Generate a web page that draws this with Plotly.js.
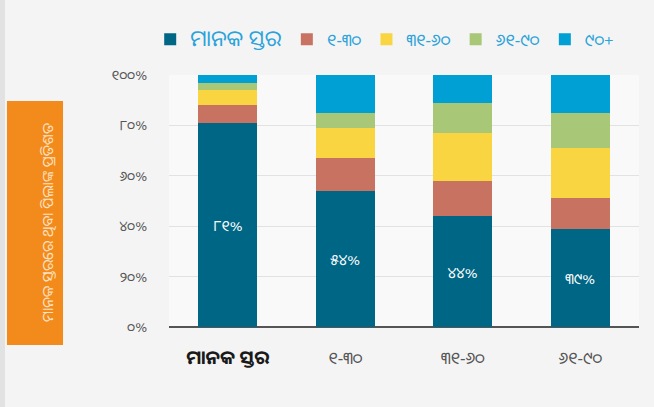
<!DOCTYPE html>
<html>
<head>
<meta charset="utf-8">
<script src="https://cdn.plot.ly/plotly-3.0.1.min.js"></script>
<style>
html,body{margin:0;padding:0;background:#f4f4f4;}
#chart{width:654px;height:407px;}
</style>
</head>
<body>
<div id="chart"></div>
<script>
// ---- data ----
var categories = ['ମାନକ ସ୍ତର', '୧-୩୦', '୩୧-୬୦', '୬୧-୯୦'];
var seriesNames = ['ମାନକ ସ୍ତର', '୧-୩୦', '୩୧-୬୦', '୬୧-୯୦', '୯୦+'];
var standardLevel = [81, 54, 44, 39];
var range1to30 = [7, 13, 14, 12];
var range31to60 = [6, 12, 19, 20];
var range61to90 = [3, 6, 12, 14];
var range90plus = [3, 15, 11, 15];
var yTickVals = [0, 20, 40, 60, 80, 100];
var yTickText = ['୦%', '୨୦%', '୪୦%', '୬୦%', '୮୦%', '୧୦୦%'];
var yTitle = 'ମାନକ ସ୍ତରରେ ଥିବା ପିଲାଙ୍କ ପ୍ରତିଶତ';

var odiaDigits = ['୦','୧','୨','୩','୪','୫','୬','୭','୮','୯'];
function toOdia(n){ return String(n).split('').map(function(c){ return odiaDigits[+c]; }).join(''); }

var colors = ['#006685', '#c87362', '#f9d641', '#a9c877', '#009fd4'];
var seriesValues = [standardLevel, range1to30, range31to60, range61to90, range90plus];

var font = "'Noto Sans Oriya','Noto Sans', 'DejaVu Sans', sans-serif";

var traces = seriesValues.map(function(vals, i){
  var t = {
    type: 'bar',
    x: categories,
    y: vals,
    name: i === 0 ? '<span style="font-size:22px">' + seriesNames[i] + '</span>' : seriesNames[i],
    marker: {color: colors[i], line: {width: 0}},
    hoverinfo: 'none'
  };
  if (i === 0) {
    t.text = vals.map(function(v){ return toOdia(v) + '%'; });
    t.textposition = 'inside';
    t.insidetextanchor = 'middle';
    t.textfont = {color: '#ffffff', size: 15, family: font};
  } else {
    t.textposition = 'none';
  }
  return t;
});

var xTickText = categories.map(function(c, i){
  return i === 0 ? '<b><span style="font-size:19px;color:#1a1a1a">' + c + '</span></b>' : c;
});

var layout = {
  width: 654, height: 407,
  margin: {l: 169, r: 15, t: 75, b: 80},
  paper_bgcolor: '#f4f4f4',
  plot_bgcolor: '#f9f9f9',
  barmode: 'stack',
  bargap: 0.5,
  font: {family: font, color: '#444'},
  showlegend: true,
  legend: {
    orientation: 'h',
    x: -0.04, xanchor: 'left',
    y: 1.14, yanchor: 'middle',
    font: {size: 17, color: '#2aa2da', family: font},
    traceorder: 'normal',
    bgcolor: 'rgba(0,0,0,0)'
  },
  xaxis: {
    type: 'category',
    tickvals: categories,
    ticktext: xTickText,
    tickfont: {size: 17, color: '#555', family: font},
    ticks: 'outside', ticklen: 16, tickcolor: 'rgba(0,0,0,0)',
    showgrid: false,
    showline: false,
    zeroline: false
  },
  yaxis: {
    range: [0, 100],
    tickvals: yTickVals,
    ticktext: yTickText,
    tickfont: {size: 14, color: '#555', family: font},
    showgrid: true,
    gridcolor: '#e2e2e2',
    gridwidth: 1,
    zeroline: true,
    zerolinecolor: '#555',
    zerolinewidth: 1.5,
    ticks: 'outside', ticklen: 18, tickcolor: 'rgba(0,0,0,0)',
    fixedrange: true
  },
  shapes: [
    {type: 'rect', xref: 'paper', yref: 'paper', x0: -0.3447, x1: -0.2255, y0: -0.0714, y1: 0.8968,
     fillcolor: '#f28b1c', line: {width: 0}, layer: 'below'},
    {type: 'rect', xref: 'paper', yref: 'paper', x0: -0.36, x1: -0.349, y0: -0.32, y1: 1.30,
     fillcolor: '#e2e2e2', line: {width: 0}, layer: 'below'}
  ],
  annotations: [
    {xref: 'paper', yref: 'paper', x: -0.285, y: 0.413, text: yTitle, showarrow: false,
     textangle: -90, font: {size: 15, color: '#fde2c2', family: font}}
  ]
};

Plotly.newPlot('chart', traces, layout, {displayModeBar: false, staticPlot: true});
</script>
</body>
</html>
